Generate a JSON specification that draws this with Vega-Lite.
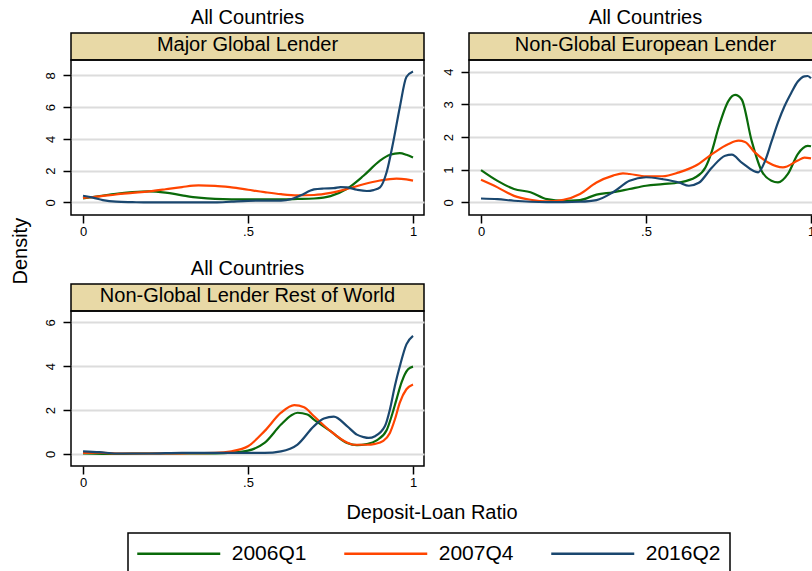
{
  "$schema": "https://vega.github.io/schema/vega-lite/v6.json",
  "background": "white",
  "padding": {"left": 9, "top": 7, "right": 0, "bottom": 0},
  "datasets": {
    "curves": [
      {"p":"A","s":"2006Q1","x":0,"y":0.25},{"p":"A","s":"2006Q1","x":0.05,"y":0.4},{"p":"A","s":"2006Q1","x":0.1,"y":0.55},{"p":"A","s":"2006Q1","x":0.15,"y":0.65},{"p":"A","s":"2006Q1","x":0.2,"y":0.7},{"p":"A","s":"2006Q1","x":0.25,"y":0.62},{"p":"A","s":"2006Q1","x":0.3,"y":0.45},{"p":"A","s":"2006Q1","x":0.35,"y":0.3},{"p":"A","s":"2006Q1","x":0.4,"y":0.22},{"p":"A","s":"2006Q1","x":0.45,"y":0.2},{"p":"A","s":"2006Q1","x":0.5,"y":0.2},{"p":"A","s":"2006Q1","x":0.55,"y":0.2},{"p":"A","s":"2006Q1","x":0.6,"y":0.2},{"p":"A","s":"2006Q1","x":0.65,"y":0.22},{"p":"A","s":"2006Q1","x":0.7,"y":0.25},{"p":"A","s":"2006Q1","x":0.75,"y":0.4},{"p":"A","s":"2006Q1","x":0.8,"y":0.86},{"p":"A","s":"2006Q1","x":0.85,"y":1.68},{"p":"A","s":"2006Q1","x":0.9,"y":2.63},{"p":"A","s":"2006Q1","x":0.93,"y":3.0},{"p":"A","s":"2006Q1","x":0.96,"y":3.1},{"p":"A","s":"2006Q1","x":0.98,"y":3.0},{"p":"A","s":"2006Q1","x":1.0,"y":2.83},
      {"p":"A","s":"2007Q4","x":0,"y":0.28},{"p":"A","s":"2007Q4","x":0.05,"y":0.38},{"p":"A","s":"2007Q4","x":0.1,"y":0.5},{"p":"A","s":"2007Q4","x":0.15,"y":0.6},{"p":"A","s":"2007Q4","x":0.2,"y":0.7},{"p":"A","s":"2007Q4","x":0.25,"y":0.83},{"p":"A","s":"2007Q4","x":0.3,"y":0.97},{"p":"A","s":"2007Q4","x":0.35,"y":1.07},{"p":"A","s":"2007Q4","x":0.4,"y":1.05},{"p":"A","s":"2007Q4","x":0.45,"y":0.95},{"p":"A","s":"2007Q4","x":0.5,"y":0.8},{"p":"A","s":"2007Q4","x":0.55,"y":0.65},{"p":"A","s":"2007Q4","x":0.6,"y":0.52},{"p":"A","s":"2007Q4","x":0.65,"y":0.45},{"p":"A","s":"2007Q4","x":0.7,"y":0.47},{"p":"A","s":"2007Q4","x":0.75,"y":0.6},{"p":"A","s":"2007Q4","x":0.8,"y":0.85},{"p":"A","s":"2007Q4","x":0.85,"y":1.15},{"p":"A","s":"2007Q4","x":0.9,"y":1.38},{"p":"A","s":"2007Q4","x":0.95,"y":1.5},{"p":"A","s":"2007Q4","x":0.98,"y":1.45},{"p":"A","s":"2007Q4","x":1.0,"y":1.37},
      {"p":"A","s":"2016Q2","x":0,"y":0.42},{"p":"A","s":"2016Q2","x":0.03,"y":0.3},{"p":"A","s":"2016Q2","x":0.06,"y":0.15},{"p":"A","s":"2016Q2","x":0.1,"y":0.05},{"p":"A","s":"2016Q2","x":0.15,"y":0.02},{"p":"A","s":"2016Q2","x":0.2,"y":0.0},{"p":"A","s":"2016Q2","x":0.3,"y":0.0},{"p":"A","s":"2016Q2","x":0.4,"y":0.0},{"p":"A","s":"2016Q2","x":0.45,"y":0.05},{"p":"A","s":"2016Q2","x":0.5,"y":0.1},{"p":"A","s":"2016Q2","x":0.55,"y":0.12},{"p":"A","s":"2016Q2","x":0.6,"y":0.12},{"p":"A","s":"2016Q2","x":0.63,"y":0.2},{"p":"A","s":"2016Q2","x":0.66,"y":0.45},{"p":"A","s":"2016Q2","x":0.7,"y":0.82},{"p":"A","s":"2016Q2","x":0.73,"y":0.88},{"p":"A","s":"2016Q2","x":0.76,"y":0.9},{"p":"A","s":"2016Q2","x":0.78,"y":0.97},{"p":"A","s":"2016Q2","x":0.8,"y":0.95},{"p":"A","s":"2016Q2","x":0.83,"y":0.8},{"p":"A","s":"2016Q2","x":0.86,"y":0.72},{"p":"A","s":"2016Q2","x":0.88,"y":0.78},{"p":"A","s":"2016Q2","x":0.9,"y":0.95},{"p":"A","s":"2016Q2","x":0.92,"y":1.9},{"p":"A","s":"2016Q2","x":0.94,"y":3.8},{"p":"A","s":"2016Q2","x":0.96,"y":6.0},{"p":"A","s":"2016Q2","x":0.98,"y":7.9},{"p":"A","s":"2016Q2","x":1.0,"y":8.25},
      {"p":"B","s":"2006Q1","x":0,"y":0.99},{"p":"B","s":"2006Q1","x":0.05,"y":0.66},{"p":"B","s":"2006Q1","x":0.1,"y":0.41},{"p":"B","s":"2006Q1","x":0.15,"y":0.31},{"p":"B","s":"2006Q1","x":0.2,"y":0.1},{"p":"B","s":"2006Q1","x":0.25,"y":0.05},{"p":"B","s":"2006Q1","x":0.3,"y":0.07},{"p":"B","s":"2006Q1","x":0.35,"y":0.24},{"p":"B","s":"2006Q1","x":0.4,"y":0.31},{"p":"B","s":"2006Q1","x":0.45,"y":0.41},{"p":"B","s":"2006Q1","x":0.5,"y":0.51},{"p":"B","s":"2006Q1","x":0.55,"y":0.56},{"p":"B","s":"2006Q1","x":0.6,"y":0.61},{"p":"B","s":"2006Q1","x":0.65,"y":0.77},{"p":"B","s":"2006Q1","x":0.68,"y":1.07},{"p":"B","s":"2006Q1","x":0.7,"y":1.58},{"p":"B","s":"2006Q1","x":0.72,"y":2.3},{"p":"B","s":"2006Q1","x":0.75,"y":3.11},{"p":"B","s":"2006Q1","x":0.77,"y":3.29},{"p":"B","s":"2006Q1","x":0.79,"y":3.15},{"p":"B","s":"2006Q1","x":0.82,"y":1.89},{"p":"B","s":"2006Q1","x":0.85,"y":0.97},{"p":"B","s":"2006Q1","x":0.88,"y":0.66},{"p":"B","s":"2006Q1","x":0.9,"y":0.61},{"p":"B","s":"2006Q1","x":0.93,"y":0.87},{"p":"B","s":"2006Q1","x":0.96,"y":1.48},{"p":"B","s":"2006Q1","x":0.99,"y":1.73},{"p":"B","s":"2006Q1","x":1.0,"y":1.72},
      {"p":"B","s":"2007Q4","x":0,"y":0.69},{"p":"B","s":"2007Q4","x":0.05,"y":0.46},{"p":"B","s":"2007Q4","x":0.1,"y":0.2},{"p":"B","s":"2007Q4","x":0.15,"y":0.08},{"p":"B","s":"2007Q4","x":0.2,"y":0.03},{"p":"B","s":"2007Q4","x":0.25,"y":0.08},{"p":"B","s":"2007Q4","x":0.3,"y":0.26},{"p":"B","s":"2007Q4","x":0.35,"y":0.61},{"p":"B","s":"2007Q4","x":0.4,"y":0.82},{"p":"B","s":"2007Q4","x":0.43,"y":0.89},{"p":"B","s":"2007Q4","x":0.45,"y":0.87},{"p":"B","s":"2007Q4","x":0.5,"y":0.8},{"p":"B","s":"2007Q4","x":0.55,"y":0.8},{"p":"B","s":"2007Q4","x":0.6,"y":0.92},{"p":"B","s":"2007Q4","x":0.65,"y":1.12},{"p":"B","s":"2007Q4","x":0.7,"y":1.48},{"p":"B","s":"2007Q4","x":0.75,"y":1.79},{"p":"B","s":"2007Q4","x":0.78,"y":1.89},{"p":"B","s":"2007Q4","x":0.8,"y":1.85},{"p":"B","s":"2007Q4","x":0.83,"y":1.53},{"p":"B","s":"2007Q4","x":0.87,"y":1.22},{"p":"B","s":"2007Q4","x":0.915,"y":1.07},{"p":"B","s":"2007Q4","x":0.96,"y":1.28},{"p":"B","s":"2007Q4","x":0.98,"y":1.37},{"p":"B","s":"2007Q4","x":1.0,"y":1.35},
      {"p":"B","s":"2016Q2","x":0,"y":0.12},{"p":"B","s":"2016Q2","x":0.05,"y":0.1},{"p":"B","s":"2016Q2","x":0.1,"y":0.05},{"p":"B","s":"2016Q2","x":0.15,"y":0.02},{"p":"B","s":"2016Q2","x":0.2,"y":0.01},{"p":"B","s":"2016Q2","x":0.25,"y":0.01},{"p":"B","s":"2016Q2","x":0.3,"y":0.02},{"p":"B","s":"2016Q2","x":0.35,"y":0.07},{"p":"B","s":"2016Q2","x":0.4,"y":0.31},{"p":"B","s":"2016Q2","x":0.45,"y":0.66},{"p":"B","s":"2016Q2","x":0.5,"y":0.77},{"p":"B","s":"2016Q2","x":0.55,"y":0.71},{"p":"B","s":"2016Q2","x":0.6,"y":0.61},{"p":"B","s":"2016Q2","x":0.63,"y":0.51},{"p":"B","s":"2016Q2","x":0.66,"y":0.6},{"p":"B","s":"2016Q2","x":0.7,"y":1.07},{"p":"B","s":"2016Q2","x":0.74,"y":1.43},{"p":"B","s":"2016Q2","x":0.76,"y":1.46},{"p":"B","s":"2016Q2","x":0.79,"y":1.22},{"p":"B","s":"2016Q2","x":0.84,"y":0.92},{"p":"B","s":"2016Q2","x":0.86,"y":1.25},{"p":"B","s":"2016Q2","x":0.88,"y":1.85},{"p":"B","s":"2016Q2","x":0.9,"y":2.45},{"p":"B","s":"2016Q2","x":0.92,"y":2.95},{"p":"B","s":"2016Q2","x":0.94,"y":3.35},{"p":"B","s":"2016Q2","x":0.96,"y":3.7},{"p":"B","s":"2016Q2","x":0.98,"y":3.86},{"p":"B","s":"2016Q2","x":0.99,"y":3.87},{"p":"B","s":"2016Q2","x":1.0,"y":3.8},
      {"p":"C","s":"2006Q1","x":0,"y":0.03},{"p":"C","s":"2006Q1","x":0.1,"y":0.0},{"p":"C","s":"2006Q1","x":0.2,"y":0.02},{"p":"C","s":"2006Q1","x":0.3,"y":0.02},{"p":"C","s":"2006Q1","x":0.4,"y":0.03},{"p":"C","s":"2006Q1","x":0.45,"y":0.06},{"p":"C","s":"2006Q1","x":0.5,"y":0.15},{"p":"C","s":"2006Q1","x":0.55,"y":0.5},{"p":"C","s":"2006Q1","x":0.6,"y":1.34},{"p":"C","s":"2006Q1","x":0.63,"y":1.75},{"p":"C","s":"2006Q1","x":0.65,"y":1.88},{"p":"C","s":"2006Q1","x":0.68,"y":1.8},{"p":"C","s":"2006Q1","x":0.7,"y":1.57},{"p":"C","s":"2006Q1","x":0.75,"y":1.04},{"p":"C","s":"2006Q1","x":0.8,"y":0.5},{"p":"C","s":"2006Q1","x":0.83,"y":0.4},{"p":"C","s":"2006Q1","x":0.86,"y":0.45},{"p":"C","s":"2006Q1","x":0.89,"y":0.62},{"p":"C","s":"2006Q1","x":0.92,"y":1.08},{"p":"C","s":"2006Q1","x":0.935,"y":1.72},{"p":"C","s":"2006Q1","x":0.95,"y":2.49},{"p":"C","s":"2006Q1","x":0.965,"y":3.25},{"p":"C","s":"2006Q1","x":0.985,"y":3.86},{"p":"C","s":"2006Q1","x":1.0,"y":3.98},
      {"p":"C","s":"2007Q4","x":0,"y":0.05},{"p":"C","s":"2007Q4","x":0.05,"y":0.06},{"p":"C","s":"2007Q4","x":0.1,"y":0.02},{"p":"C","s":"2007Q4","x":0.2,"y":0.02},{"p":"C","s":"2007Q4","x":0.3,"y":0.03},{"p":"C","s":"2007Q4","x":0.4,"y":0.05},{"p":"C","s":"2007Q4","x":0.45,"y":0.12},{"p":"C","s":"2007Q4","x":0.5,"y":0.35},{"p":"C","s":"2007Q4","x":0.55,"y":1.04},{"p":"C","s":"2007Q4","x":0.6,"y":1.88},{"p":"C","s":"2007Q4","x":0.64,"y":2.23},{"p":"C","s":"2007Q4","x":0.67,"y":2.13},{"p":"C","s":"2007Q4","x":0.7,"y":1.72},{"p":"C","s":"2007Q4","x":0.75,"y":1.04},{"p":"C","s":"2007Q4","x":0.8,"y":0.52},{"p":"C","s":"2007Q4","x":0.82,"y":0.42},{"p":"C","s":"2007Q4","x":0.86,"y":0.42},{"p":"C","s":"2007Q4","x":0.885,"y":0.46},{"p":"C","s":"2007Q4","x":0.91,"y":0.6},{"p":"C","s":"2007Q4","x":0.93,"y":0.96},{"p":"C","s":"2007Q4","x":0.945,"y":1.57},{"p":"C","s":"2007Q4","x":0.96,"y":2.34},{"p":"C","s":"2007Q4","x":0.98,"y":2.95},{"p":"C","s":"2007Q4","x":1.0,"y":3.17},
      {"p":"C","s":"2016Q2","x":0,"y":0.12},{"p":"C","s":"2016Q2","x":0.05,"y":0.08},{"p":"C","s":"2016Q2","x":0.1,"y":0.02},{"p":"C","s":"2016Q2","x":0.2,"y":0.02},{"p":"C","s":"2016Q2","x":0.3,"y":0.05},{"p":"C","s":"2016Q2","x":0.4,"y":0.05},{"p":"C","s":"2016Q2","x":0.5,"y":0.05},{"p":"C","s":"2016Q2","x":0.55,"y":0.05},{"p":"C","s":"2016Q2","x":0.6,"y":0.12},{"p":"C","s":"2016Q2","x":0.65,"y":0.43},{"p":"C","s":"2016Q2","x":0.7,"y":1.27},{"p":"C","s":"2016Q2","x":0.73,"y":1.62},{"p":"C","s":"2016Q2","x":0.76,"y":1.7},{"p":"C","s":"2016Q2","x":0.8,"y":1.27},{"p":"C","s":"2016Q2","x":0.83,"y":0.88},{"p":"C","s":"2016Q2","x":0.85,"y":0.77},{"p":"C","s":"2016Q2","x":0.865,"y":0.73},{"p":"C","s":"2016Q2","x":0.885,"y":0.81},{"p":"C","s":"2016Q2","x":0.915,"y":1.27},{"p":"C","s":"2016Q2","x":0.93,"y":2.03},{"p":"C","s":"2016Q2","x":0.945,"y":3.1},{"p":"C","s":"2016Q2","x":0.96,"y":4.0},{"p":"C","s":"2016Q2","x":0.98,"y":5.0},{"p":"C","s":"2016Q2","x":1.0,"y":5.39}
    ]
  },
  "bounds": "flush",
  "align": "each",
  "columns": 2,
  "spacing": {"row": 0, "column": 45},
  "concat": [
    {
      "data": {"values": [{"panel": "Major Global Lender"}]},
      "width": 353, "height": 27,
      "view": {"fill": "#e8d9a6", "stroke": "black", "strokeWidth": 1.5},
      "title": {"text": "All Countries", "offset": 5},
      "mark": {"type": "text", "fontSize": 20, "font": "Liberation Sans", "baseline": "alphabetic", "dy": 4, "color": "black"},
      "encoding": {"text": {"field": "panel"}}
    },
    {
      "data": {"values": [{"panel": "Non-Global European Lender"}]},
      "width": 353, "height": 27,
      "view": {"fill": "#e8d9a6", "stroke": "black", "strokeWidth": 1.5},
      "title": {"text": "All Countries", "offset": 5},
      "mark": {"type": "text", "fontSize": 20, "font": "Liberation Sans", "baseline": "alphabetic", "dy": 4, "color": "black"},
      "encoding": {"text": {"field": "panel"}}
    },
    {
      "data": {"name": "curves"},
      "transform": [{"filter": "datum.p == 'A'"}],
      "width": 353, "height": 155,
      "mark": {"type": "line", "interpolate": "monotone", "strokeWidth": 2.2},
      "encoding": {
        "x": {"field": "x", "type": "quantitative", "scale": {"domain": [-0.0364, 1.0333], "nice": false, "zero": false},
              "axis": {"values": [0, 0.5, 1], "labelExpr": "datum.value == 0.5 ? '.5' : datum.value == 0 ? '0' : '1'", "grid": false, "title": null, "labelPadding": 2, "labelFlush": false}},
        "y": {"field": "y", "type": "quantitative", "scale": {"domain": [-0.79, 8.97], "nice": false, "zero": false},
              "axis": {"values": [0, 2, 4, 6, 8], "grid": true, "labelAngle": 270, "labelPadding": 6, "labelFlush": false,
                       "title": "Density", "titleX": -45, "titleY": 190.7, "titleAngle": 270, "titleBaseline": "alphabetic", "titleAlign": "center"}},
        "color": {"field": "s", "type": "nominal", "scale": {"domain": ["2006Q1", "2007Q4", "2016Q2"], "range": ["#0a6a0a", "#ff4500", "#1a476f"]},
                  "legend": {"orient": "none", "legendX": 57, "legendY": 500, "direction": "horizontal", "columns": 3, "title": null,
                             "symbolType": "M-4.15,0H4.15", "symbolSize": 400, "symbolOffset": 30.25, "symbolStrokeWidth": 2.5,
                             "labelOffset": 41.5, "labelFontSize": 21, "labelFont": "Liberation Sans", "labelColor": "black",
                             "columnPadding": 32, "padding": 9, "strokeColor": "black", "fillColor": "white"}}
      }
    },
    {
      "data": {"name": "curves"},
      "transform": [{"filter": "datum.p == 'B'"}],
      "width": 353, "height": 155,
      "mark": {"type": "line", "interpolate": "monotone", "strokeWidth": 2.2},
      "encoding": {
        "x": {"field": "x", "type": "quantitative", "scale": {"domain": [-0.0364, 1.0333], "nice": false, "zero": false},
              "axis": {"values": [0, 0.5, 1], "labelExpr": "datum.value == 0.5 ? '.5' : datum.value == 0 ? '0' : '1'", "grid": false, "title": null, "labelPadding": 2, "labelFlush": false}},
        "y": {"field": "y", "type": "quantitative", "scale": {"domain": [-0.386, 4.36], "nice": false, "zero": false},
              "axis": {"values": [0, 1, 2, 3, 4], "grid": true, "labelAngle": 270, "labelPadding": 6, "labelFlush": false, "title": null}},
        "color": {"field": "s", "type": "nominal", "scale": {"domain": ["2006Q1", "2007Q4", "2016Q2"], "range": ["#0a6a0a", "#ff4500", "#1a476f"]},
                  "legend": {"orient": "none", "legendX": 57, "legendY": 500, "direction": "horizontal", "columns": 3, "title": null,
                             "symbolType": "M-4.15,0H4.15", "symbolSize": 400, "symbolOffset": 30.25, "symbolStrokeWidth": 2.5,
                             "labelOffset": 41.5, "labelFontSize": 21, "labelFont": "Liberation Sans", "labelColor": "black",
                             "columnPadding": 32, "padding": 9, "strokeColor": "black", "fillColor": "white"}}
      }
    },
    {
      "data": {"values": []},
      "width": 353, "height": 69,
      "view": {"stroke": null},
      "mark": {"type": "point"},
      "encoding": {}
    },
    {
      "data": {"values": []},
      "width": 353, "height": 69,
      "view": {"stroke": null},
      "mark": {"type": "point"},
      "encoding": {}
    },
    {
      "data": {"values": [{"panel": "Non-Global Lender Rest of World"}]},
      "width": 353, "height": 27,
      "view": {"fill": "#e8d9a6", "stroke": "black", "strokeWidth": 1.5},
      "title": {"text": "All Countries", "offset": 5},
      "mark": {"type": "text", "fontSize": 20, "font": "Liberation Sans", "baseline": "alphabetic", "dy": 4, "color": "black"},
      "encoding": {"text": {"field": "panel"}}
    },
    {
      "data": {"values": []},
      "width": 353, "height": 27,
      "view": {"stroke": null},
      "mark": {"type": "point"},
      "encoding": {}
    },
    {
      "data": {"name": "curves"},
      "transform": [{"filter": "datum.p == 'C'"}],
      "width": 353, "height": 155,
      "mark": {"type": "line", "interpolate": "monotone", "strokeWidth": 2.2},
      "encoding": {
        "x": {"field": "x", "type": "quantitative", "scale": {"domain": [-0.0364, 1.0333], "nice": false, "zero": false},
              "axis": {"values": [0, 0.5, 1], "labelExpr": "datum.value == 0.5 ? '.5' : datum.value == 0 ? '0' : '1'", "grid": false, "labelPadding": 2, "labelFlush": false,
                       "title": "Deposit-Loan Ratio", "titleX": 360.5, "titleY": 52, "titleBaseline": "alphabetic", "titleAlign": "center"}},
        "y": {"field": "y", "type": "quantitative", "scale": {"domain": [-0.55, 6.52], "nice": false, "zero": false},
              "axis": {"values": [0, 2, 4, 6], "grid": true, "labelAngle": 270, "labelPadding": 6, "labelFlush": false, "title": null}},
        "color": {"field": "s", "type": "nominal", "scale": {"domain": ["2006Q1", "2007Q4", "2016Q2"], "range": ["#0a6a0a", "#ff4500", "#1a476f"]},
                  "legend": {"orient": "none", "legendX": 57, "legendY": 500, "direction": "horizontal", "columns": 3, "title": null,
                             "symbolType": "M-4.15,0H4.15", "symbolSize": 400, "symbolOffset": 30.25, "symbolStrokeWidth": 2.5,
                             "labelOffset": 41.5, "labelFontSize": 21, "labelFont": "Liberation Sans", "labelColor": "black",
                             "columnPadding": 32, "padding": 9, "strokeColor": "black", "fillColor": "white"}}
      }
    }
  ],
  "config": {
    "font": "Liberation Sans",
    "view": {"stroke": "black", "strokeWidth": 1.5},
    "title": {"fontSize": 20, "fontWeight": "normal", "font": "Liberation Sans", "color": "black", "baseline": "alphabetic", "anchor": "middle", "frame": "group"},
    "axis": {"labelFont": "Liberation Sans", "labelFontSize": 13, "labelColor": "black", "tickColor": "black", "tickSize": 8, "tickWidth": 1.5, "domain": false,
             "gridColor": "#dcdcdc", "gridWidth": 1.8, "titleFont": "Liberation Sans", "titleFontSize": 20, "titleFontWeight": "normal", "titleColor": "black"},
    "legend": {"strokeWidth": 1.5}
  }
}
